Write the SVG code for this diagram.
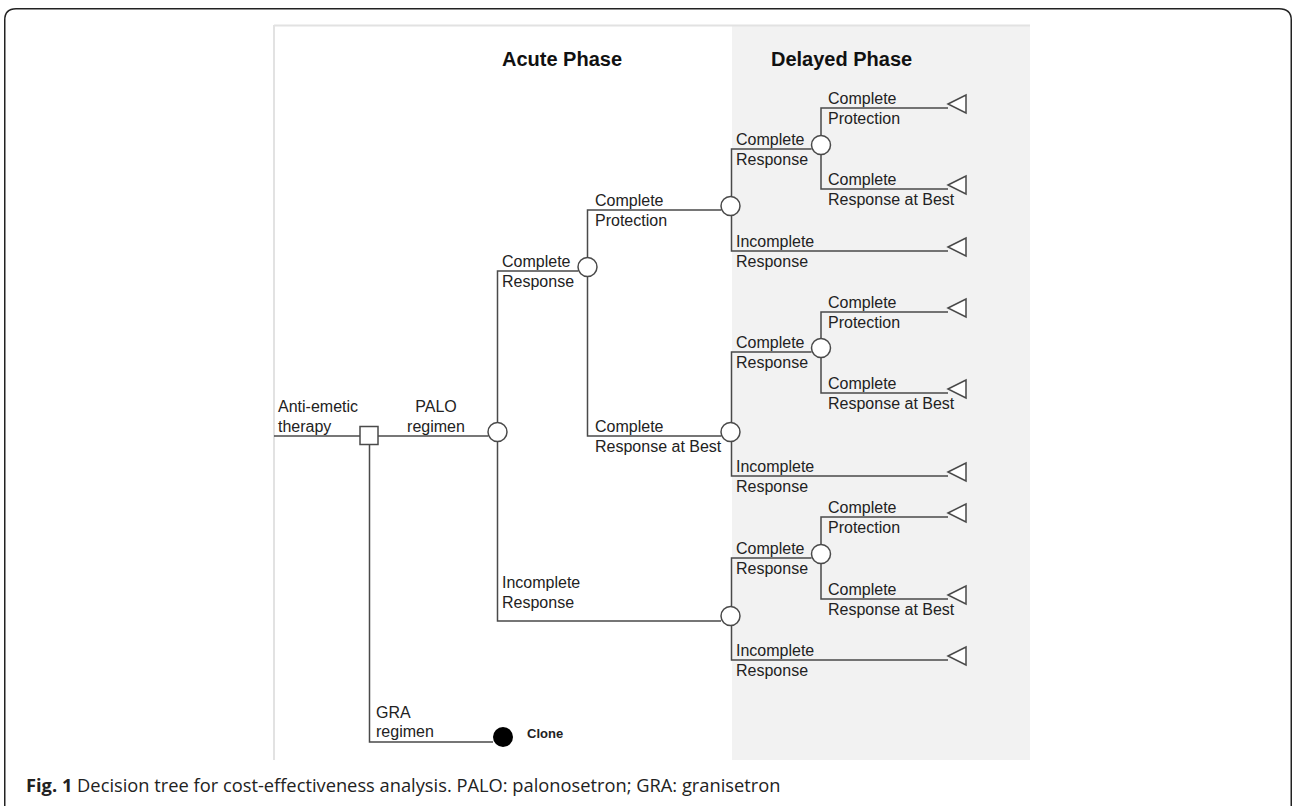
<svg xmlns="http://www.w3.org/2000/svg" width="1295" height="806" viewBox="0 0 1295 806">
<style>
.ln{fill:none;stroke:#4a4a4a;stroke-width:1.5}
.nd{fill:#fff;stroke:#4a4a4a;stroke-width:1.5}
.t{font-family:"Liberation Sans",Arial,Helvetica,sans-serif;font-size:16px;fill:#222}
.h{font-family:"Liberation Sans",Arial,Helvetica,sans-serif;font-size:20px;font-weight:bold;fill:#111}
.cap{font-family:"Open Sans","Noto Sans",sans-serif;font-size:18.3px;fill:#222}
</style>
<defs>
<polygon id="tri" class="nd" points="0,0 18,-9 18,9"/>
</defs>
<rect width="1295" height="806" fill="#fff"/>
<path d="M4.75,820 V20 Q4.75,8.75 16,8.75 H1279 Q1291.25,8.75 1291.25,20 V820" fill="none" stroke="#222" stroke-width="1.5"/>
<!-- panel -->
<rect x="732" y="25" width="298" height="735" fill="#f2f2f2"/>
<path d="M274,25.5 H1030 M274,25 V760" fill="none" stroke="#e2e2e2" stroke-width="2"/>
<text class="h" x="502" y="66">Acute Phase</text>
<text class="h" x="771" y="66">Delayed Phase</text>

<g id="connectors">
<path class="ln" d="M274,436 H360"/>
<path class="ln" d="M378,436 H488"/>
<path class="ln" d="M369.5,444 V742 H493"/>
<path class="ln" d="M497.5,432 V271 H578"/>
<path class="ln" d="M497.5,432 V621 H721"/>
<path class="ln" d="M587.5,267 V210 H721"/>
<path class="ln" d="M587.5,267 V436 H721"/>
<path class="ln" d="M731.5,206 V149 H811.5"/>
<path class="ln" d="M731.5,206 V251 H948"/>
<path class="ln" d="M821,145 V108 H948"/>
<path class="ln" d="M821,145 V189 H948"/>
<path class="ln" d="M731.5,432 V352 H811.5"/>
<path class="ln" d="M731.5,432 V476 H948"/>
<path class="ln" d="M821,348 V312 H948"/>
<path class="ln" d="M821,348 V393 H948"/>
<path class="ln" d="M731.5,615 V558 H811.5"/>
<path class="ln" d="M731.5,615 V660 H948"/>
<path class="ln" d="M821,554 V517 H948"/>
<path class="ln" d="M821,554 V599 H948"/>
</g>

<g id="root-label">
<text class="t" x="278" y="412">Anti-emetic</text>
<text class="t" x="278" y="432">therapy</text>
</g>
<g id="decision">
<rect class="nd" x="360" y="426.5" width="18" height="18"/>
</g>
<g id="palo">
<text class="t" x="436" y="412" text-anchor="middle">PALO</text>
<text class="t" x="436" y="432" text-anchor="middle">regimen</text>
<circle class="nd" cx="497.5" cy="432" r="9.5"/>
</g>
<g id="gra">
<text class="t" x="376" y="718">GRA</text>
<text class="t" x="376" y="737">regimen</text>
<circle cx="503" cy="737" r="10" fill="#000"/>
<text x="527" y="738" font-family="Liberation Sans,Arial,sans-serif" font-size="13" font-weight="bold" fill="#222">Clone</text>
</g>
<g id="acute-cr">
<text class="t" x="502" y="267">Complete</text>
<text class="t" x="502" y="287">Response</text>
<circle class="nd" cx="587.5" cy="267" r="9.5"/>
</g>
<g id="acute-cp">
<text class="t" x="595" y="206">Complete</text>
<text class="t" x="595" y="226">Protection</text>
<circle class="nd" cx="730.5" cy="206" r="9.5"/>
</g>
<g id="acute-crab">
<text class="t" x="595" y="432">Complete</text>
<text class="t" x="595" y="452">Response at Best</text>
<circle class="nd" cx="730.5" cy="432" r="9.5"/>
</g>
<g id="acute-ir">
<text class="t" x="502" y="588">Incomplete</text>
<text class="t" x="502" y="608">Response</text>
<circle class="nd" cx="730.5" cy="616" r="9.5"/>
</g>

<g id="a-cr">
<text class="t" x="736" y="145">Complete</text>
<text class="t" x="736" y="165">Response</text>
<circle class="nd" cx="821" cy="145" r="9.5"/>
</g>
<g id="a-cr-cp">
<text class="t" x="828" y="104">Complete</text>
<text class="t" x="828" y="124">Protection</text>
<use href="#tri" x="948" y="104"/>
</g>
<g id="a-cr-crab">
<text class="t" x="828" y="185">Complete</text>
<text class="t" x="828" y="205">Response at Best</text>
<use href="#tri" x="948" y="185"/>
</g>
<g id="a-ir">
<text class="t" x="736" y="247">Incomplete</text>
<text class="t" x="736" y="267">Response</text>
<use href="#tri" x="948" y="247"/>
</g>

<g id="b-cr">
<text class="t" x="736" y="348">Complete</text>
<text class="t" x="736" y="368">Response</text>
<circle class="nd" cx="821" cy="348" r="9.5"/>
</g>
<g id="b-cr-cp">
<text class="t" x="828" y="308">Complete</text>
<text class="t" x="828" y="328">Protection</text>
<use href="#tri" x="948" y="308"/>
</g>
<g id="b-cr-crab">
<text class="t" x="828" y="389">Complete</text>
<text class="t" x="828" y="409">Response at Best</text>
<use href="#tri" x="948" y="389"/>
</g>
<g id="b-ir">
<text class="t" x="736" y="472">Incomplete</text>
<text class="t" x="736" y="492">Response</text>
<use href="#tri" x="948" y="472"/>
</g>

<g id="c-cr">
<text class="t" x="736" y="554">Complete</text>
<text class="t" x="736" y="574">Response</text>
<circle class="nd" cx="821" cy="554" r="9.5"/>
</g>
<g id="c-cr-cp">
<text class="t" x="828" y="513">Complete</text>
<text class="t" x="828" y="533">Protection</text>
<use href="#tri" x="948" y="513"/>
</g>
<g id="c-cr-crab">
<text class="t" x="828" y="595">Complete</text>
<text class="t" x="828" y="615">Response at Best</text>
<use href="#tri" x="948" y="595"/>
</g>
<g id="c-ir">
<text class="t" x="736" y="656">Incomplete</text>
<text class="t" x="736" y="676">Response</text>
<use href="#tri" x="948" y="656"/>
</g>

<text class="cap" x="26" y="792"><tspan font-weight="bold">Fig. 1</tspan> Decision tree for cost-effectiveness analysis. PALO: palonosetron; GRA: granisetron</text>
</svg>
